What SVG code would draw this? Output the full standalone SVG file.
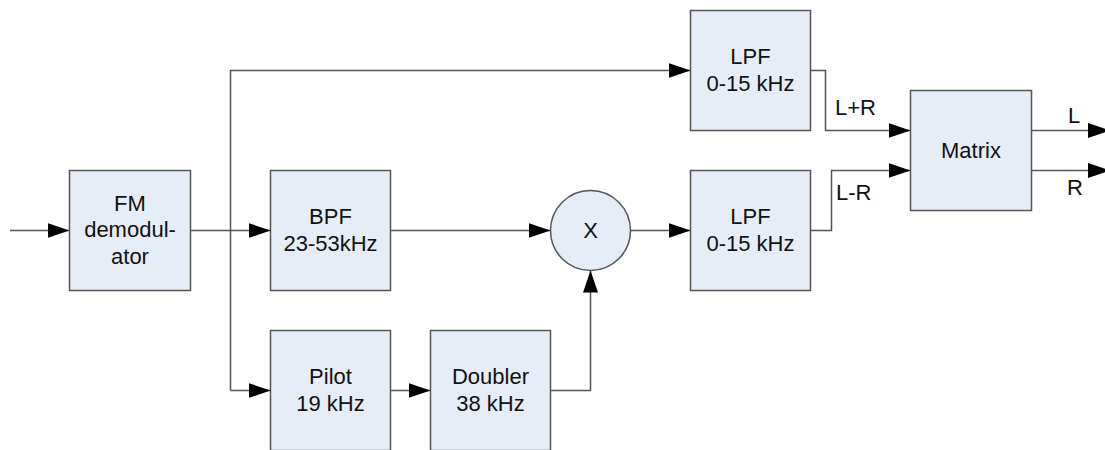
<svg xmlns="http://www.w3.org/2000/svg" width="1105" height="450" viewBox="0 0 1105 450">
<defs>
<marker id="ah" markerUnits="userSpaceOnUse" markerWidth="23" markerHeight="16" refX="22" refY="7.5" orient="auto">
<path d="M0,0 L22,7.5 L0,15 z" fill="#000"/>
</marker>
<style>
.box{fill:#e7edf7;stroke:#555;stroke-width:1.5}
.t{font-family:"Liberation Sans",Arial,sans-serif;font-size:22px;fill:#111;text-anchor:middle}
.lb{font-family:"Liberation Sans",Arial,sans-serif;font-size:22px;fill:#111}
.c{fill:none;stroke:#555;stroke-width:1.5}
</style>
</defs>
<rect width="1105" height="450" fill="#fff"/>
<g id="connectors">
<path class="c" d="M10,230.5 H69.5" marker-end="url(#ah)"/>
<path class="c" d="M190.5,230.5 H270.5" marker-end="url(#ah)"/>
<path class="c" d="M230.5,390.5 V70.5 H690.5" marker-end="url(#ah)"/>
<path class="c" d="M230.5,390.5 H270.5" marker-end="url(#ah)"/>
<path class="c" d="M390.5,390.5 H430.5" marker-end="url(#ah)"/>
<path class="c" d="M390.5,230.5 H550.5" marker-end="url(#ah)"/>
<path class="c" d="M550.5,390.5 H590.5 V270.5" marker-end="url(#ah)"/>
<path class="c" d="M630.5,230.5 H690.5" marker-end="url(#ah)"/>
<path class="c" d="M810.5,70.5 H825.5 V130.5 H910.5" marker-end="url(#ah)"/>
<path class="c" d="M810.5,230.5 H831.5 V170.5 H910.5" marker-end="url(#ah)"/>
<path class="c" d="M1031.5,130.5 H1110" marker-end="url(#ah)"/>
<path class="c" d="M1031.5,170.5 H1110" marker-end="url(#ah)"/>
<text class="lb" x="835" y="115">L+R</text>
<text class="lb" x="836" y="200">L-R</text>
<text class="lb" x="1068" y="123">L</text>
<text class="lb" x="1067" y="195">R</text>
</g>
<g id="fm">
<rect class="box" x="69.5" y="170.5" width="121" height="120"/>
<text class="t" x="130" y="210.5">FM</text>
<text class="t" x="130" y="237">demodul-</text>
<text class="t" x="130" y="263.5">ator</text>
</g>
<g id="bpf">
<rect class="box" x="270.5" y="170.5" width="120" height="120"/>
<text class="t" x="330.5" y="224">BPF</text>
<text class="t" x="330.5" y="251">23-53kHz</text>
</g>
<g id="pilot">
<rect class="box" x="270.5" y="330.5" width="120" height="120"/>
<text class="t" x="330.5" y="384">Pilot</text>
<text class="t" x="330.5" y="411">19 kHz</text>
</g>
<g id="doubler">
<rect class="box" x="430.5" y="330.5" width="120" height="120"/>
<text class="t" x="490.5" y="384">Doubler</text>
<text class="t" x="490.5" y="411">38 kHz</text>
</g>
<g id="mixer">
<circle class="box" cx="590.5" cy="230.5" r="40"/>
<text class="t" x="590.5" y="238">X</text>
</g>
<g id="lpf1">
<rect class="box" x="690.5" y="10.5" width="120" height="120"/>
<text class="t" x="750.5" y="64">LPF</text>
<text class="t" x="750.5" y="91">0-15 kHz</text>
</g>
<g id="lpf2">
<rect class="box" x="690.5" y="170.5" width="120" height="120"/>
<text class="t" x="750.5" y="224">LPF</text>
<text class="t" x="750.5" y="251">0-15 kHz</text>
</g>
<g id="matrix">
<rect class="box" x="910.5" y="90.5" width="121" height="120"/>
<text class="t" x="971" y="158">Matrix</text>
</g>
</svg>
